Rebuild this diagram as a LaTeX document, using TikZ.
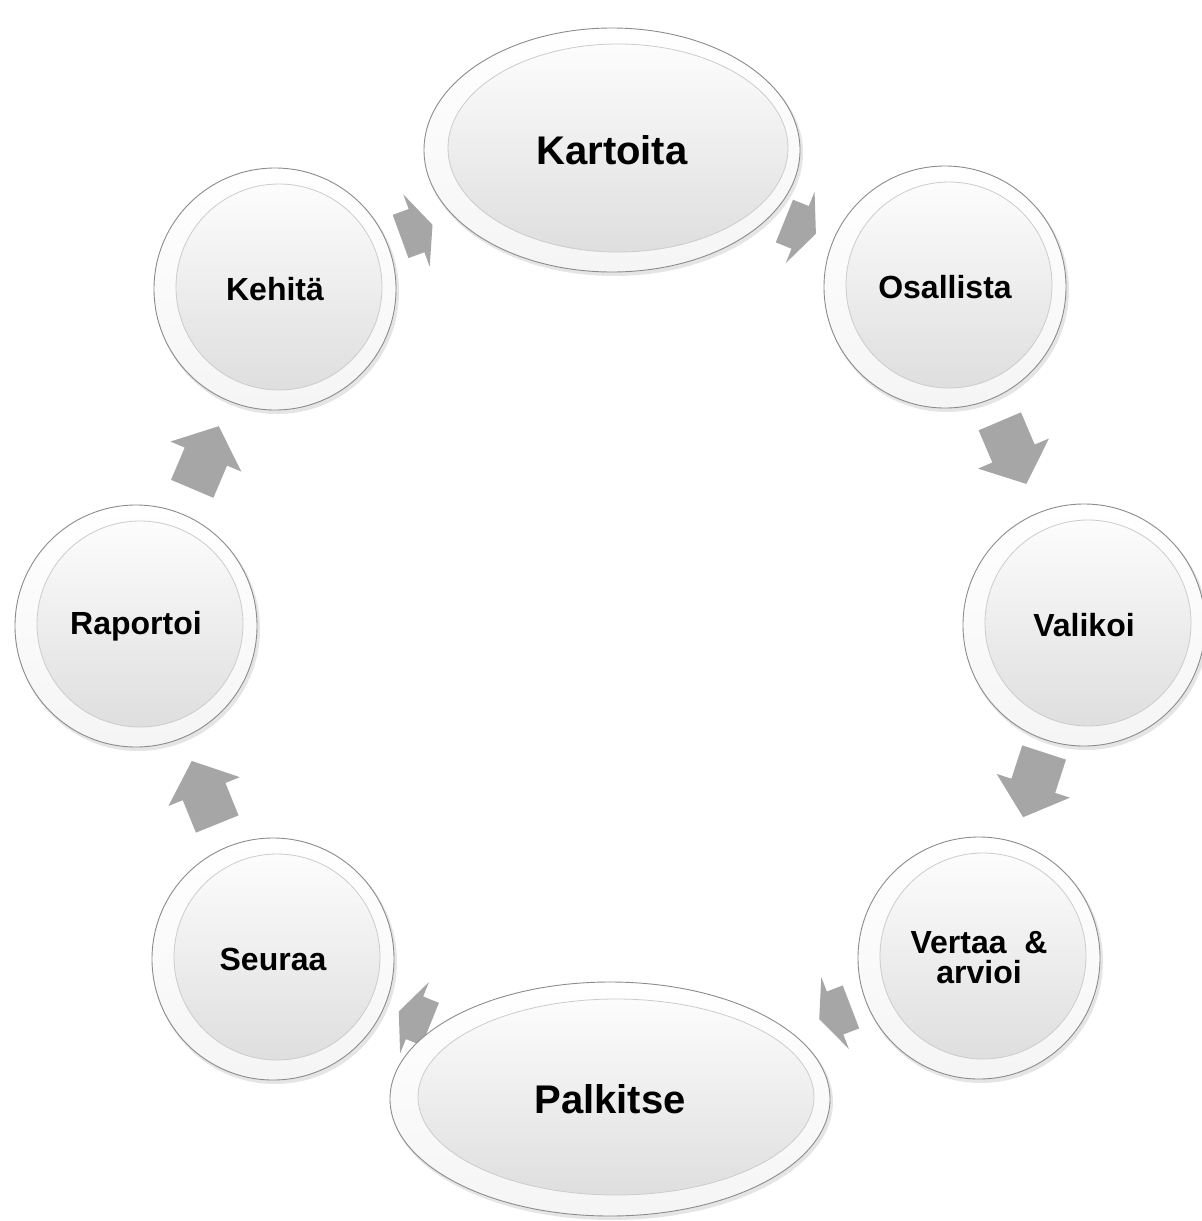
\documentclass[tikz,border=0pt]{standalone}
\usepackage{fontspec}
\setmainfont{Liberation Sans}
\usetikzlibrary{shapes.geometric,calc}
\definecolor{arrowgray}{HTML}{A6A6A6}
\definecolor{rimgray}{HTML}{8C8C8C}
\pgfdeclarelayer{back}
\pgfsetlayers{back,main}
\begin{document}
\begin{tikzpicture}[x=1pt,y=1pt,
  bubble/.style={circle, inner sep=0pt, minimum size=242pt, draw=rimgray, line width=0.9pt,
     top color=white, bottom color=black!4, align=center,
     font=\fontsize{32}{30}\selectfont\bfseries,
     path picture={\shadedraw[top color=white, bottom color=black!14, draw=black!20, line width=0.8pt]
        ($(path picture bounding box.center)+(4,2)$) circle (103pt);}},
  oval/.style n args={4}{ellipse, inner sep=0pt, minimum width=#1, minimum height=#2,
     draw=rimgray, line width=0.9pt, top color=white, bottom color=black!4,
     font=\fontsize{40}{40}\selectfont\bfseries,
     path picture={\shadedraw[top color=white, bottom color=black!14, draw=black!20, line width=0.8pt]
        ($(path picture bounding box.center)+(6,2)$) ellipse [x radius=#3, y radius=#4];}},
  shadowdisk/.style={fill=black, opacity=0.10},
  pics/longblk/.style={code={
     \fill[arrowgray] (-34,-23) -- (1,-23) -- (1,-38.5) -- (34,0) -- (1,38.5) -- (1,23) -- (-34,23) -- cycle;}},
  pics/shortblk/.style={code={
     \fill[arrowgray] (-17,-23) -- (0,-23) -- (0,-38.5) -- (17,0) -- (0,38.5) -- (0,23) -- (-17,23) -- cycle;}}
]
\useasboundingbox (0,0) rectangle (1202,-1221);

% nodes
\node[oval={376pt}{244pt}{170pt}{104pt}] (kar) at (612,-150) {Kartoita};
\node[bubble] (osa) at (945,-287) {Osallista};
\node[bubble] (val) at (1084,-625) {Valikoi};
\node[bubble] (ver) at (979,-958) {Vertaa~~\&\\arvioi};
\node[oval={440pt}{234pt}{198pt}{98pt}] (pal) at (610,-1099) {Palkitse};
\node[bubble] (seu) at (273,-959) {Seuraa};
\node[bubble] (rap) at (136,-626) {Raportoi};
\node[bubble] (keh) at (275,-289) {Kehitä};

\begin{pgfonlayer}{back}
  \fill[white] (0,0) rectangle (1202,-1221);
  % soft shadows
  \foreach \n in {osa,val,ver,seu,rap,keh}
    \fill[shadowdisk] ($(\n)+(2,-3)$) circle (122pt);
  \fill[shadowdisk] ($(kar)+(2,-3)$) ellipse [x radius=189pt, y radius=123pt];
  \fill[shadowdisk] ($(pal)+(2,-3)$) ellipse [x radius=221pt, y radius=118pt];
  % connectors (block arrows between named nodes)
  \pic[rotate=20]   at ($(keh)!0.42!(kar)$)  {shortblk};
  \pic[rotate=-22]  at ($(kar)!0.565!(osa)$) {shortblk};
  \pic[rotate=-67]  at ($(osa)!0.49!(val)$)  {longblk};
  \pic[rotate=-108] at ($(val)!0.48!(ver)$)  {longblk};
  \pic[rotate=-159] at ($(ver)!0.39!(pal)$)  {shortblk};
  \pic[rotate=158]  at ($(pal)!0.58!(seu)$)  {shortblk};
  \pic[rotate=112]  at ($(seu)!0.5!(rap)$)   {longblk};
  \pic[rotate=67]   at ($(rap)!0.5!(keh)$)   {longblk};
\end{pgfonlayer}
\end{tikzpicture}
\end{document}
